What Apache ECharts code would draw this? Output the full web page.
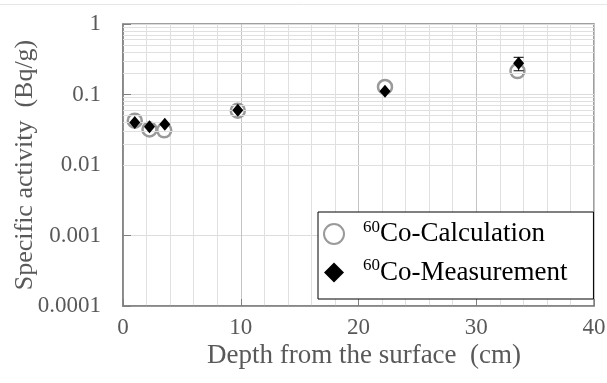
<!DOCTYPE html>
<html>
<head>
<meta charset="utf-8">
<script src="https://cdn.jsdelivr.net/npm/echarts@6/dist/echarts.min.js"></script>
<style>
  html, body { margin: 0; padding: 0; background: #ffffff; }
  #chart { width: 607px; height: 383px; }
</style>
</head>
<body>
<div id="chart"></div>
<script>
// Depth (cm) and specific activity (Bq/g) of 60Co
const calcDepth = [1.0, 2.25, 3.5, 9.75, 22.25, 33.5];
const calcActivity = [0.0425, 0.032, 0.031, 0.059, 0.128, 0.215];
const measDepth = [1.0, 2.25, 3.55, 9.75, 22.25, 33.6];
const measActivity = [0.040, 0.035, 0.038, 0.060, 0.111, 0.277];
// Error bars on measurements: [depth, low, high]
const measErrors = [[33.6, 0.217, 0.337]];
// Decade tick labels on the log axis
const yTickLabels = ['0.0001', '0.001', '0.01', '0.1', '1'];
// Intermediate log gridlines (2..9 within each decade)
const yMinorLines = [];
[0.0001, 0.001, 0.01, 0.1].forEach(function (d) {
  [2, 3, 4, 5, 6, 7, 8, 9].forEach(function (k) { yMinorLines.push(+(d * k).toPrecision(3)); });
});

const SERIF = "'Liberation Serif', 'Times New Roman', serif";
const chart = echarts.init(document.getElementById('chart'), null, { renderer: 'canvas' });

chart.setOption({
  animation: false,
  backgroundColor: '#ffffff',
  graphic: [{
    type: 'line', silent: true,
    shape: { x1: 0, y1: 4.5, x2: 607, y2: 4.5 },
    style: { stroke: '#e6e6e6', lineWidth: 1 }
  }],
  grid: {
    left: 123, right: 13, top: 24, bottom: 77,
    outerBoundsMode: 'none', containLabel: false,
    show: true, borderColor: '#808080', borderWidth: 1.5, backgroundColor: 'transparent'
  },
  legend: {
    orient: 'vertical',
    left: 318, top: 212,
    backgroundColor: '#ffffff',
    borderColor: '#000000', borderWidth: 1,
    padding: [7, 26, 13, 5],
    itemGap: 10,
    itemWidth: 20, itemHeight: 20,
    selectedMode: false,
    data: ['calc', 'meas'],
    formatter: function (name) {
      return name === 'calc' ? '{s|60}{t|Co-Calculation}' : '{s|60}{t|Co-Measurement}';
    },
    textStyle: {
      rich: {
        s: { fontFamily: SERIF, fontSize: 17, color: '#000', verticalAlign: 'top', padding: [0, 0, 0, 14], lineHeight: 30 },
        t: { fontFamily: SERIF, fontSize: 27, color: '#000', lineHeight: 30 }
      }
    }
  },
  xAxis: {
    type: 'value', min: 0, max: 40, interval: 10,
    name: 'Depth from the surface  (cm)',
    nameLocation: 'middle', nameGap: 36, nameMoveOverlap: false,
    nameTextStyle: { fontFamily: SERIF, fontSize: 27, color: '#595959', padding: [0, 0, 0, 11] },
    axisLine: { show: true, lineStyle: { color: '#808080', width: 1.5 } },
    axisTick: { show: true, inside: true, length: 7, lineStyle: { color: '#808080' } },
    axisLabel: { fontFamily: SERIF, fontSize: 23, color: '#595959', margin: 10 },
    splitLine: { show: true, lineStyle: { color: '#c4c4c4', width: 1 } },
    minorTick: { show: false, splitNumber: 5 },
    minorSplitLine: { show: true, lineStyle: { color: '#e0e0e0', width: 1 } }
  },
  yAxis: {
    type: 'log', logBase: 10, min: 0.0001, max: 1,
    name: 'Specific activity  (Bq/g)',
    nameLocation: 'middle', nameGap: 85, nameMoveOverlap: false,
    nameTextStyle: { fontFamily: SERIF, fontSize: 26, color: '#595959' },
    axisLine: { show: true, lineStyle: { color: '#808080', width: 1.5 } },
    axisTick: { show: true, inside: true, length: 8, lineStyle: { color: '#808080' } },
    axisLabel: {
      fontFamily: SERIF, fontSize: 23, color: '#595959', margin: 22,
      formatter: function (v) {
        const i = Math.round(Math.log10(v)) + 4;
        return yTickLabels[i] !== undefined ? yTickLabels[i] : '';
      }
    },
    splitLine: { show: true, lineStyle: { color: '#dcdcdc', width: 1 } }
  },
  series: [
    {
      name: 'grid-minor', type: 'scatter', data: [], z: 1, silent: true,
      markLine: {
        silent: true, symbol: ['none', 'none'], animation: false,
        label: { show: false },
        lineStyle: { color: '#e0e0e0', type: 'solid', width: 1 },
        emphasis: { disabled: true },
        data: yMinorLines.map(function (v) { return { yAxis: v }; })
      }
    },
    {
      name: 'calc', type: 'scatter', z: 3,
      symbol: 'circle', symbolSize: 14,
      itemStyle: { color: '#ffffff', borderColor: '#9a9a9a', borderWidth: 2.5, opacity: 1 },
      data: calcDepth.map(function (x, i) { return [x, calcActivity[i]]; })
    },
    {
      name: 'errors', type: 'custom', z: 4,
      data: measErrors,
      renderItem: function (params, api) {
        const x = api.value(0);
        const lo = api.coord([x, api.value(1)]);
        const hi = api.coord([x, api.value(2)]);
        const cap = 5;
        const st = { stroke: '#000000', lineWidth: 1 };
        return {
          type: 'group',
          children: [
            { type: 'line', shape: { x1: lo[0], y1: lo[1], x2: hi[0], y2: hi[1] }, style: st },
            { type: 'line', shape: { x1: hi[0] - cap, y1: hi[1], x2: hi[0] + cap, y2: hi[1] }, style: st },
            { type: 'line', shape: { x1: lo[0] - cap, y1: lo[1], x2: lo[0] + cap, y2: lo[1] }, style: st }
          ]
        };
      }
    },
    {
      name: 'meas', type: 'scatter', z: 5,
      symbol: 'diamond', symbolSize: [11, 13],
      itemStyle: { color: '#000000', opacity: 1 },
      data: measDepth.map(function (x, i) { return [x, measActivity[i]]; })
    }
  ]
});
</script>
</body>
</html>
